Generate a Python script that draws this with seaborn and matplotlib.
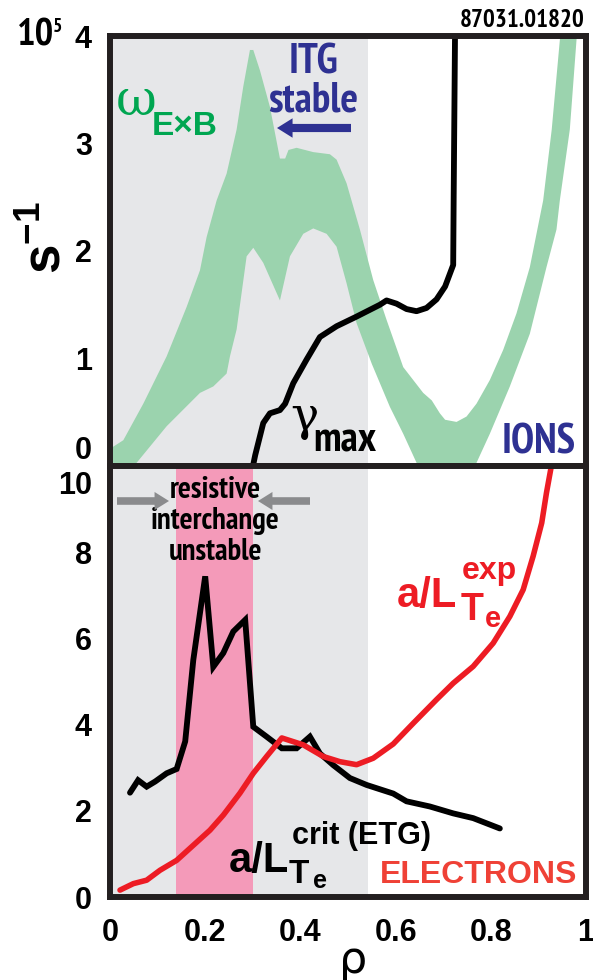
import numpy as np
import matplotlib
matplotlib.use("Agg")
import matplotlib.pyplot as plt
import matplotlib.transforms as mtransforms
import seaborn as sns
from matplotlib import font_manager as fm

# ---------------- data ----------------
# E x B shearing rate band, upper and lower edges (units of 1e5 s^-1)
rho_wexb_hi = [0.000, 0.007, 0.028, 0.070, 0.119, 0.161, 0.189, 0.203, 0.224, 0.245, 0.266, 0.280,
               0.294, 0.301, 0.315, 0.336, 0.357, 0.368, 0.375, 0.392, 0.427, 0.462, 0.476, 0.497,
               0.525, 0.553, 0.581, 0.616, 0.658, 0.676, 0.693, 0.704, 0.728, 0.749, 0.770, 0.798,
               0.826, 0.854, 0.882, 0.896, 0.910, 0.928, 0.945, 0.948]
wexb_hi = [0.17, 0.18, 0.24, 0.58, 1.02, 1.48, 1.82, 2.13, 2.47, 2.72, 3.13, 3.53,
           3.87, 3.87, 3.68, 3.34, 2.86, 2.86, 2.94, 2.96, 2.92, 2.90, 2.85, 2.63,
           2.20, 1.73, 1.36, 0.92, 0.68, 0.61, 0.49, 0.43, 0.41, 0.46, 0.58, 0.80,
           1.08, 1.42, 1.85, 2.16, 2.47, 3.13, 3.96, 4.10]
rho_wexb_lo = [0.000, 0.056, 0.119, 0.189, 0.217, 0.245, 0.252, 0.266, 0.287, 0.301, 0.322, 0.357,
               0.378, 0.406, 0.427, 0.455, 0.476, 0.497, 0.518, 0.550, 0.588, 0.616, 0.644, 0.670,
               0.745, 0.770, 0.798, 0.840, 0.882, 0.917, 0.938, 0.945, 0.966, 0.980, 0.983]
wexb_lo = [-0.15, 0.03, 0.37, 0.68, 0.74, 0.86, 1.02, 1.27, 1.95, 2.03, 1.89, 1.54,
           1.95, 2.16, 2.21, 2.16, 2.04, 1.70, 1.33, 0.95, 0.55, 0.30, 0.03, -0.40,
           -0.40, 0.03, 0.30, 0.74, 1.23, 1.85, 2.20, 2.47, 3.13, 3.96, 4.10]

# maximum linear growth rate (units of 1e5 s^-1)
rho_gamma = [0.298, 0.305, 0.322, 0.336, 0.357, 0.368, 0.385, 0.413, 0.441, 0.476, 0.518, 0.567,
             0.581, 0.602, 0.623, 0.644, 0.665, 0.686, 0.704, 0.721, 0.722, 0.725]
gamma_max = [-0.05, 0.10, 0.40, 0.49, 0.52, 0.58, 0.77, 0.99, 1.20, 1.30, 1.39, 1.50,
             1.54, 1.51, 1.46, 1.44, 1.47, 1.55, 1.67, 1.87, 2.50, 4.10]

# critical (ETG) and experimental normalised electron temperature gradient
rho_crit = [0.042, 0.059, 0.077, 0.095, 0.119, 0.140, 0.158, 0.175, 0.200, 0.217, 0.238, 0.259,
            0.284, 0.301, 0.329, 0.361, 0.392, 0.420, 0.441, 0.469, 0.504, 0.539, 0.595, 0.623,
            0.672, 0.721, 0.763, 0.819]
aLTe_crit = [2.42, 2.71, 2.56, 2.68, 2.87, 2.97, 3.61, 5.50, 7.44, 5.34, 5.66, 6.16,
             6.43, 3.95, 3.72, 3.45, 3.45, 3.72, 3.33, 3.06, 2.76, 2.60, 2.40, 2.22,
             2.10, 1.94, 1.83, 1.59]
rho_exp = [0.021, 0.049, 0.077, 0.105, 0.140, 0.175, 0.210, 0.238, 0.273, 0.301, 0.329, 0.361,
           0.406, 0.448, 0.483, 0.518, 0.553, 0.595, 0.637, 0.686, 0.721, 0.763, 0.805, 0.840,
           0.868, 0.889, 0.907, 0.917, 0.928]
aLTe_exp = [0.16, 0.31, 0.39, 0.62, 0.85, 1.20, 1.55, 1.90, 2.41, 2.87, 3.26, 3.69,
            3.53, 3.26, 3.14, 3.07, 3.22, 3.55, 4.03, 4.58, 4.96, 5.35, 5.89, 6.51,
            7.13, 7.91, 8.68, 9.38, 10.05]

# regions
itg_stable_edge = 0.543           # ITG stable for rho below this
ri_unstable = (0.139, 0.300)      # resistive interchange unstable band

x_ticks = [0, 0.2, 0.4, 0.6, 0.8, 1.0]
x_ticklabels = ["0", "0.2", "0.4", "0.6", "0.8", "1"]
x_minor = [0.1, 0.3, 0.5, 0.7, 0.9]
top_yticks = [0, 1, 2, 3, 4]
top_yticklabels = ["0", "1", "2", "3", "4"]
bot_yticks = [0, 2, 4, 6, 8, 10]
bot_yticklabels = ["0", "2", "4", "6", "8", "10"]
bot_yminor = [1, 3, 5, 7, 9]

shot_label = "87031.01820"

# ---------------- style ----------------
sns.set_theme(style="white")
entries = fm.fontManager.ttflist
names = {f.name for f in entries}


def has_bold(name):
    return any(f.name == name and f.weight in (700, "bold") for f in entries)


BOLD = "Liberation Sans" if "Liberation Sans" in names else "DejaVu Sans"
NARROW = next((n for n in ["Liberation Sans Narrow", "Arial Narrow", "PT Sans Narrow",
                           "Fira Sans Condensed", "IBM Plex Sans Condensed",
                           "Roboto Condensed", "Pragati Narrow"]
               if has_bold(n)), BOLD)
plt.rcParams["font.family"] = [BOLD, "DejaVu Sans"]
plt.rcParams["mathtext.fontset"] = "custom"
plt.rcParams["mathtext.bf"] = BOLD + ":bold"
plt.rcParams["mathtext.rm"] = BOLD + ":bold"

GREY_BG = "#e6e7e9"
PINK = "#f49ab9"
GREEN_BAND = "#9bd3ae"
GREEN_TXT = "#00a651"
NAVY = "#2e3192"
RED = "#ed1c24"
ORANGE_RED = "#ef4136"
SPINE = "#231f20"

W, H = 593, 980
fig = plt.figure(figsize=(W / 100, H / 100), dpi=100)


def fx(px):
    return px / W


def fy(py):
    return 1 - py / H


ax1 = fig.add_axes([fx(110), fy(466), (586 - 110) / W, (466 - 36) / H])
ax2 = fig.add_axes([fx(110), fy(897), (586 - 110) / W, (897 - 466) / H])

for ax in (ax1, ax2):
    ax.set_facecolor("white")
    ax.set_xlim(0, 1)
    ax.axvspan(0, itg_stable_edge, color=GREY_BG, lw=0, zorder=0)
    for sp in ax.spines.values():
        sp.set_linewidth(4.3)
        sp.set_color(SPINE)
        sp.set_zorder(5)
    ax.grid(False)

ax2.axvspan(*ri_unstable, color=PINK, lw=0, zorder=0.5)

# ---- top panel: ions ----
ax1.fill(np.r_[rho_wexb_hi, rho_wexb_lo[::-1]], np.r_[wexb_hi, wexb_lo[::-1]],
         color=GREEN_BAND, lw=0, zorder=1)
sns.lineplot(x=rho_gamma, y=gamma_max, ax=ax1, color="black", lw=4.2, sort=False,
             estimator=None, zorder=3)
ax1.set_ylim(0, 4)

# ---- bottom panel: electrons ----
sns.lineplot(x=rho_crit, y=aLTe_crit, ax=ax2, color="black", lw=4.2, sort=False,
             estimator=None, zorder=3)
sns.lineplot(x=rho_exp, y=aLTe_exp, ax=ax2, color=RED, lw=4.0, sort=False,
             estimator=None, zorder=4)
ax2.set_ylim(0, 10)
ax2.get_lines()[0].set_solid_joinstyle("miter")

# ---- ticks ----
tick_kw = dict(direction="in", color="#333333", width=0.9, labelsize=22,
               labelcolor="black")
ax1.set_xticks(x_ticks)
ax1.set_xticks(x_minor, minor=True)
ax1.set_yticks(top_yticks)
ax1.set_yticklabels(top_yticklabels)
ax1.tick_params(axis="x", which="both", length=9, labelbottom=False, **tick_kw)
ax1.tick_params(axis="y", which="major", length=9, pad=13, **tick_kw)

ax2.set_xticks(x_ticks)
ax2.set_xticklabels(x_ticklabels)
ax2.set_xticks(x_minor, minor=True)
ax2.set_yticks(bot_yticks)
ax2.set_yticklabels(bot_yticklabels)
ax2.set_yticks(bot_yminor, minor=True)
ax2.tick_params(axis="x", which="both", length=9, pad=15, **tick_kw)
ax2.tick_params(axis="y", which="major", length=9, pad=13, **tick_kw)
ax2.tick_params(axis="y", which="minor", length=5, **tick_kw)
for ax in (ax1, ax2):
    for lab in ax.get_xticklabels() + ax.get_yticklabels():
        lab.set_fontweight("bold")
    ax.set_xlabel("")
    ax.set_ylabel("")

# keep the shared "0" / "10" labels at the panel junction apart
lab0 = ax1.get_yticklabels()[0]
lab0.set_transform(lab0.get_transform() + mtransforms.ScaledTranslation(0, 13 / 72, fig.dpi_scale_trans))
lab10 = ax2.get_yticklabels()[-1]
lab10.set_transform(lab10.get_transform() + mtransforms.ScaledTranslation(0, -12 / 72, fig.dpi_scale_trans))


def txt(px, py, s, size, family=BOLD, color="black", ha="left", va="baseline",
        weight="bold", **kw):
    return fig.text(fx(px), fy(py), s, fontsize=size, family=family, color=color,
                    ha=ha, va=va, fontweight=weight, **kw)


def arrow(px0, px1, py, color, scale):
    fig.add_artist(matplotlib.patches.FancyArrowPatch(
        (px0, H - py), (px1, H - py), transform=None,
        arrowstyle="simple,head_length=0.8,head_width=1.0,tail_width=0.42",
        mutation_scale=scale, color=color, lw=0, shrinkA=0, shrinkB=0, zorder=10))


# axis labels and header
txt(17, 45, "10", 28, NARROW)
txt(53, 32, "5", 14, NARROW)
txt(585, 27, shot_label, 18, NARROW, ha="right")
txt(46, 238, r"$\mathbf{s^{-1}}$", 38, ha="center", va="center", rotation=90)
txt(353, 960, "ρ", 32, "DejaVu Sans", ha="center", va="center", weight="normal")

# top panel annotations
txt(116, 115, "ω", 36, "DejaVu Serif", GREEN_TXT, weight="normal")
txt(152, 135, "E×B", 24, BOLD, GREEN_TXT)
txt(313, 73, "ITG", 30, NARROW, NAVY, ha="center")
txt(313, 112, "stable", 30, NARROW, NAVY, ha="center")
arrow(351, 277, 128, NAVY, 14)
txt(290, 430, "γ", 34, "DejaVu Serif", weight="normal")
txt(313, 452, "max", 30, NARROW)
txt(576, 453, "IONS", 30, NARROW, NAVY, ha="right")

# bottom panel annotations
txt(215, 498, "resistive", 22, NARROW, ha="center")
txt(215, 529, "interchange", 22, NARROW, ha="center")
txt(215, 560, "unstable", 22, NARROW, ha="center")
arrow(117, 169, 501, "#8a8b8d", 13)
arrow(310, 258, 501, "#8a8b8d", 13)

txt(397, 607, "a/L", 30, color=RED)
txt(462, 579, "exp", 23, color=RED)
txt(461, 620, "T", 27, color=RED)
txt(485, 627, "e", 21, color=RED)

txt(229, 872, "a/L", 30)
txt(292, 844, "crit (ETG)", 22)
txt(289, 883, "T", 24)
txt(313, 888, "e", 18)
txt(577, 883, "ELECTRONS", 23, color=ORANGE_RED, ha="right")

fig.savefig("out.png", dpi=100, facecolor="white")
